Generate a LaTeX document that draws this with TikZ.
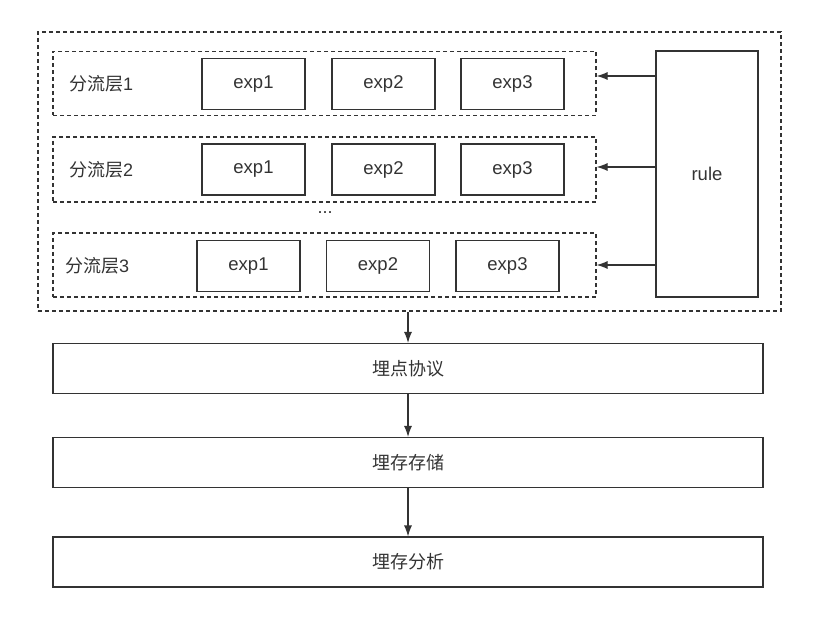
\documentclass[tikz,border=0pt]{standalone}
\usepackage{fontspec}
\setmainfont{Liberation Sans}
\newfontfamily\cjk{Noto Sans CJK SC}
\usetikzlibrary{positioning,arrows.meta}
\definecolor{ink}{HTML}{333333}

\begin{document}
\begin{tikzpicture}[
    x=1pt, y=-1pt,
    >=Latex,
    line/.style={draw=ink, -{Latex[length=11pt,width=8pt]}, line width=1.1pt},
    dashbox/.style={
        draw=ink,
        line width=1.1pt,
        dash pattern=on 4pt off 3pt,
        inner sep=0pt
    },
    expbox/.style={
        draw=ink,
        line width=1.1pt,
        align=center,
        minimum width=103pt,
        minimum height=51pt,
        inner sep=0pt,
        text=ink,
        font=\fontsize{18.5}{22}\selectfont
    },
    stagebox/.style={
        draw=ink,
        line width=1.1pt,
        align=center,
        minimum width=710pt,
        minimum height=50pt,
        inner sep=0pt,
        text=ink,
        font=\fontsize{18}{22}\selectfont\cjk
    },
    tag/.style={anchor=west, text=ink, inner sep=0pt, font=\fontsize{18}{22}\selectfont}
]
\useasboundingbox (0,0) rectangle (825,623);
% Outer frame
\node[dashbox, minimum width=743pt, minimum height=279pt] (outer) at (409.5,171.5) {};
% Layers
\node[dashbox, minimum width=543pt, minimum height=64pt] (lay1) at (324.5,83.5) {};
\node[dashbox, minimum width=543pt, minimum height=65pt] (lay2) at (324.5,169.5) {};
\node[dashbox, minimum width=543pt, minimum height=64pt] (lay3) at (324.5,265) {};
\node[tag] (tag1) at (69,83.5) {{\cjk 分流层}1};
\node[tag] (tag2) at (69,169.5) {{\cjk 分流层}2};
\node[tag] (tag3) at (65,266) {{\cjk 分流层}3};
% Experiments, layer 1
\node[expbox] (e11) at (253.5,84) {exp1};
\node[expbox] (e12) at (383.5,84) {exp2};
\node[expbox] (e13) at (512.5,84) {exp3};
% Experiments, layer 2
\node[expbox] (e21) at (253.5,169.5) {exp1};
\node[expbox] (e22) at (383.5,169.5) {exp2};
\node[expbox] (e23) at (512.5,169.5) {exp3};
% Experiments, layer 3
\node[expbox] (e31) at (248.5,266) {exp1};
\node[expbox] (e32) at (378,266) {exp2};
\node[expbox] (e33) at (507.5,266) {exp3};
\node[text=ink, font=\fontsize{18}{18}\selectfont] (dots) at (325,213) {...};
% Rule
\node[expbox, minimum width=102pt, minimum height=246pt] (rule) at (707,174) {rule};
\draw[line] ([yshift=7.5pt]rule.west |- lay1.east) -- ([yshift=7.5pt]lay1.east);
\draw[line] ([yshift=2.5pt]rule.west |- lay2.east) -- ([yshift=2.5pt]lay2.east);
\draw[line] (rule.west |- lay3.east) -- (lay3.east);
% Pipeline
\node[stagebox] (proto) at (408,368.5) {埋点协议};
\node[stagebox] (store) at (408,462.5) {埋存存储};
\node[stagebox] (anal)  at (408,562) {埋存分析};
\draw[line] (outer.south -| proto.north) -- (proto.north);
\draw[line] (proto.south) -- (store.north);
\draw[line] (store.south) -- (anal.north);
\end{tikzpicture}
\end{document}
